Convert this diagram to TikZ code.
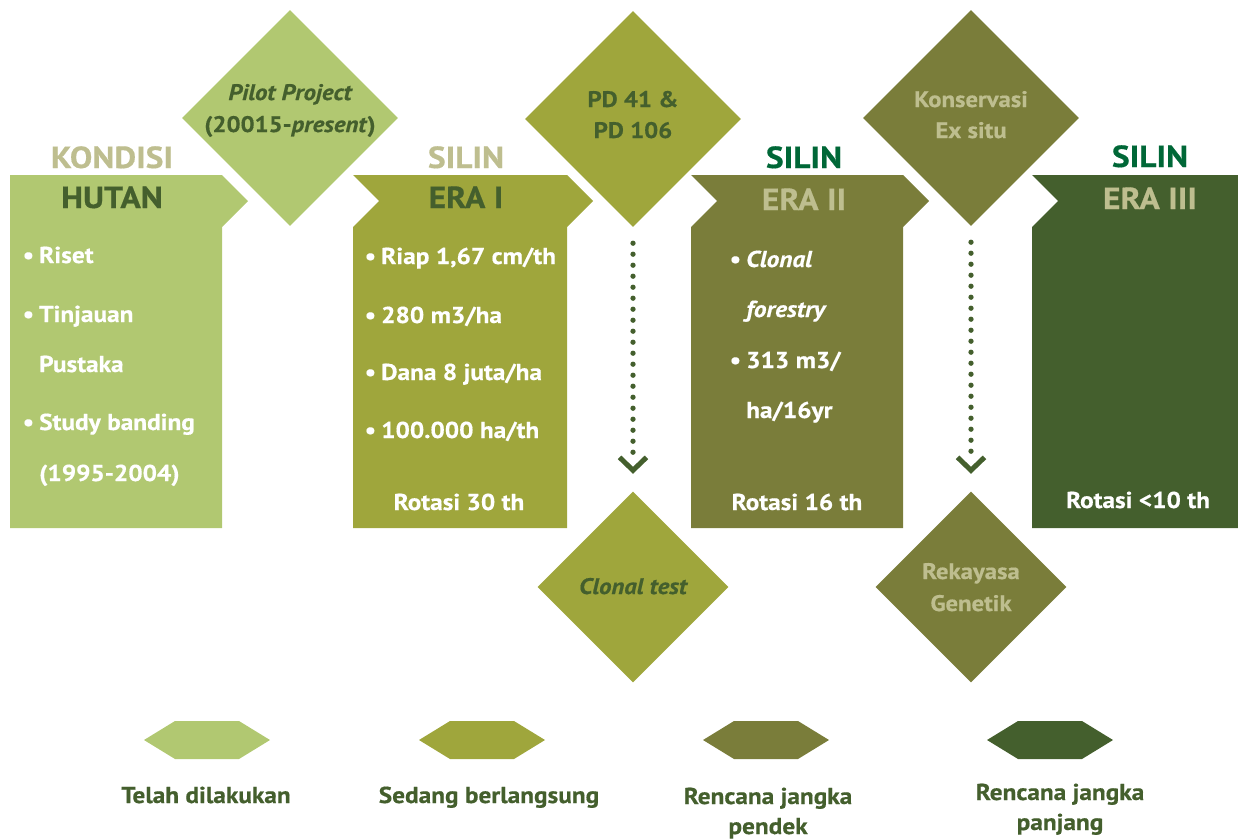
\documentclass[tikz,border=0pt]{standalone}
\usepackage{fontspec}
\setmainfont{PT Sans}[FakeStretch=1.1,
  BoldFeatures={FakeBold=0.5}, BoldItalicFeatures={FakeBold=0.5}]
\usetikzlibrary{shapes.geometric,calc}

\definecolor{phaseA}{HTML}{B1C871}
\definecolor{phaseB}{HTML}{9FA63C}
\definecolor{phaseC}{HTML}{7A7D3A}
\definecolor{phaseD}{HTML}{445F2D}
\definecolor{paletext}{HTML}{BEBE8F}
\definecolor{silingreen}{HTML}{006737}

\newcommand{\bul}{\makebox[14pt][l]{\hspace{-2.5pt}•}}

\begin{document}
\begin{tikzpicture}[x=1pt,y=-1pt,
  every node/.style={inner sep=0pt},
  head/.style={font=\bfseries\fontsize{30.5}{30.5}\selectfont, anchor=base},
  item/.style={font=\bfseries\fontsize{23}{23}\selectfont, text=white, anchor=base west},
  rot/.style={font=\bfseries\fontsize{23}{23}\selectfont, text=white, anchor=base},
  gem/.style={diamond, minimum width=#1, minimum height=#1},
  gemtext/.style={font=\bfseries\fontsize{22.5}{22.5}\selectfont, anchor=base},
  legend/.style={font=\bfseries\fontsize{23}{23}\selectfont, text=phaseD, anchor=base},
  dotline/.style={phaseD, line width=5.3pt, line cap=round, dash pattern=on 0pt off 11pt,
    shorten <=16pt, shorten >=39pt},
  chevron/.style={phaseD, line width=5pt}]
\useasboundingbox (0,0) rectangle (1238,838);

% the four stages
\fill[phaseA] (10,175) -- (222,175) -- (248,201) -- (222,227) -- (222,528) -- (10,528) -- cycle;
\fill[phaseB] (353,175) -- (567,175) -- (593,201) -- (567,227) -- (567,528) -- (353,528)
  -- (353,227) -- (379,201) -- cycle;
\fill[phaseC] (691,175) -- (903,175) -- (929,201) -- (903,227) -- (903,528) -- (691,528)
  -- (691,227) -- (717,201) -- cycle;
\fill[phaseD] (1032,175) -- (1238,175) -- (1238,528) -- (1032,528) -- (1032,227) -- (1058,201) -- cycle;

% diamonds
\node[gem=216pt, fill=phaseA] (pilot) at (290,118) {};
\node[gem=216pt, fill=phaseB] (pd) at (633,119) {};
\node[gem=216pt, fill=phaseC] (konservasi) at (971,118) {};
\node[gem=191pt, fill=phaseB] (clonal) at (633,587) {};
\node[gem=191pt, fill=phaseC] (rekayasa) at (971,587) {};

% kondisi hutan
\node[head, text=paletext] (kondisi) at (112,168) {KONDISI};
\node[head, text=phaseD] (hutan) at (112,208) {HUTAN};
\node[item] (riset) at (25,263) {\bul Riset};
\node[item] (tinjauan) at (25,322) {\bul Tinjauan};
\node[item] (pustaka) at (39,372) {Pustaka};
\node[item] (banding) at (25,430) {\bul Study banding};
\node[item] (periode) at (39,481) {(1995-2004)};

% silin era I
\node[head, text=paletext] (silinA) at (466,168) {SILIN};
\node[head, text=phaseD] (eraA) at (466,208) {ERA I};
\node[item] (riap) at (367,264) {\bul Riap 1,67 cm/th};
\node[item] (volA) at (367,323) {\bul 280 m3/ha};
\node[item] (dana) at (367,380) {\bul Dana 8 juta/ha};
\node[item] (luas) at (367,438) {\bul 100.000 ha/th};
\node[rot] (rotA) at (459,510) {Rotasi 30 th};

% silin era II
\node[head, text=silingreen] (silinB) at (804,168) {SILIN};
\node[head, text=paletext] (eraB) at (804,210) {ERA II};
\node[item] (cloneA) at (732,267) {\bul\itshape Clonal};
\node[item] (cloneB) at (746,317) {\itshape forestry};
\node[item] (volB) at (732,368) {\bul 313 m3/};
\node[item] (volC) at (746,418) {ha/16yr};
\node[rot] (rotB) at (797,510) {Rotasi 16 th};

% silin era III
\node[head, text=silingreen] (silinC) at (1150,167) {SILIN};
\node[head, text=paletext] (eraC) at (1150,209) {ERA III};
\node[rot] (rotC) at (1138,508) {Rotasi <10 th};

% diamond labels
\node[gemtext, text=phaseD] (pilotA) at (290,100) {\itshape Pilot Project};
\node[gemtext, text=phaseD] (pilotB) at (290,132) {(20015-\textit{present})};
\node[gemtext, text=phaseD] (pdA) at (633,107) {PD 41 \&};
\node[gemtext, text=phaseD] (pdB) at (633,138) {PD 106};
\node[gemtext, text=paletext] (konsA) at (971,107) {Konservasi};
\node[gemtext, text=paletext] (konsB) at (971,138) {Ex situ};
\node[gemtext, text=phaseD] (clonalT) at (633,594) {\itshape Clonal test};
\node[gemtext, text=paletext] (rekA) at (971,579) {Rekayasa};
\node[gemtext, text=paletext] (rekB) at (971,611) {Genetik};

% dotted links
\draw[dotline] (pd.south) -- (clonal.north);
\draw[chevron] ($(clonal.north)+(-13.5,-34)$) -- ($(clonal.north)+(0,-21)$) -- ($(clonal.north)+(13.5,-34)$);
\draw[dotline] (konservasi.south) -- (rekayasa.north);
\draw[chevron] ($(rekayasa.north)+(-13.5,-34)$) -- ($(rekayasa.north)+(0,-21)$) -- ($(rekayasa.north)+(13.5,-34)$);

% legend
\coordinate (done) at (207,740);
\coordinate (ongoing) at (482,740);
\coordinate (short) at (766,740);
\coordinate (long) at (1050,740);
\fill[phaseA] (done) +(-63,0) -- +(-32,-19) -- +(32,-19) -- +(63,0) -- +(32,19) -- +(-32,19) -- cycle;
\fill[phaseB] (ongoing) +(-63,0) -- +(-32,-19) -- +(32,-19) -- +(63,0) -- +(32,19) -- +(-32,19) -- cycle;
\fill[phaseC] (short) +(-63,0) -- +(-32,-19) -- +(32,-19) -- +(63,0) -- +(32,19) -- +(-32,19) -- cycle;
\fill[phaseD] (long) +(-63,0) -- +(-32,-19) -- +(32,-19) -- +(63,0) -- +(32,19) -- +(-32,19) -- cycle;
\node[legend] (doneT) at (206,803) {Telah dilakukan};
\node[legend] (ongoingT) at (489,803) {Sedang berlangsung};
\node[legend] (shortA) at (768,804) {Rencana jangka};
\node[legend] (shortB) at (768,834) {pendek};
\node[legend] (longA) at (1060,800) {Rencana jangka};
\node[legend] (longB) at (1060,830) {panjang};
\end{tikzpicture}
\end{document}
